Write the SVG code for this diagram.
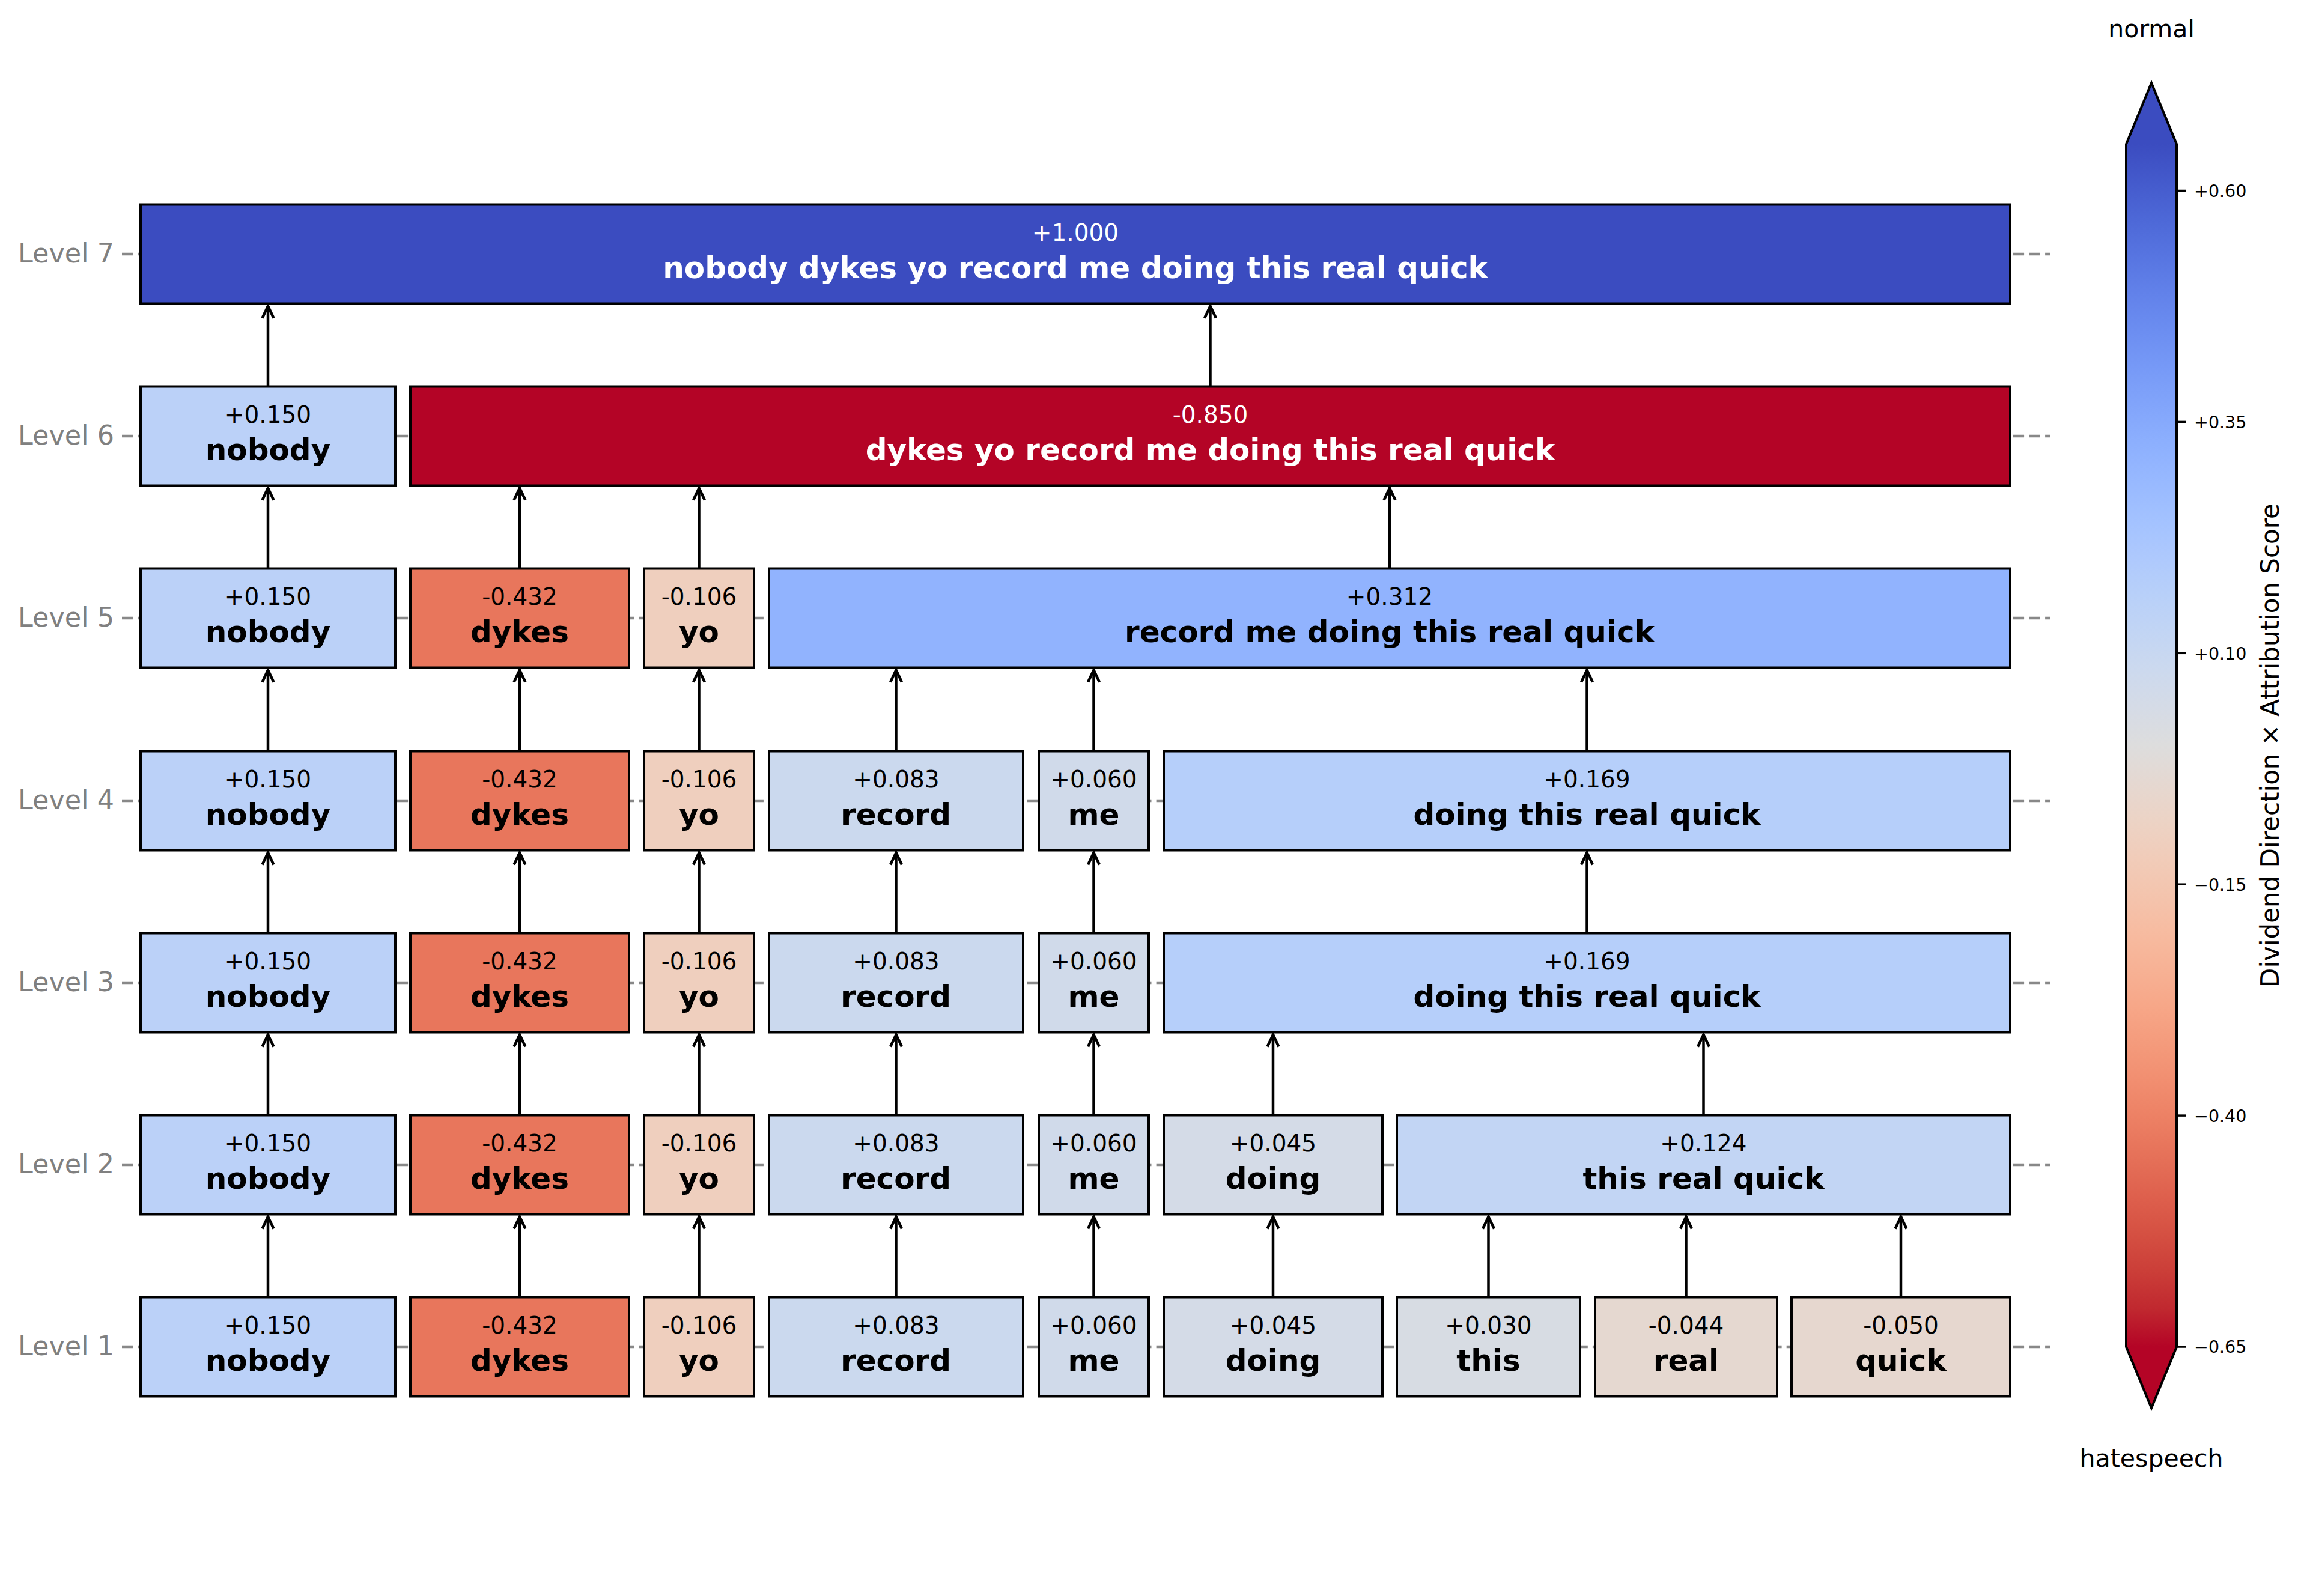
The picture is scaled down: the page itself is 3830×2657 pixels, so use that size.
<svg xmlns="http://www.w3.org/2000/svg" width="3830" height="2657" viewBox="0 0 3830 2657">
<style>
text{font-family:"DejaVu Sans","Liberation Sans",sans-serif}
.box{stroke:#000;stroke-width:4}
.val{font-size:39px;text-anchor:middle;fill:#000}
.lab{font-size:50px;font-weight:bold;text-anchor:middle;fill:#000}
.w{fill:#fff}
.lvl{font-size:44.5px;text-anchor:end;fill:#808080}
.grid{stroke:#888;stroke-width:4.5;stroke-dasharray:18.8 8.1;fill:none}
.arr{stroke:#000;stroke-width:4.5;fill:none;marker-end:url(#ah)}
.tick{stroke:#000;stroke-width:3.5}
.tl{font-size:28.5px;fill:#000}
.cb{font-size:41px;fill:#000}
.cbl{font-size:42px;fill:#000}
</style>
<defs>
<marker id="ah" markerUnits="userSpaceOnUse" markerWidth="60" markerHeight="60" refX="0" refY="0" orient="auto" overflow="visible">
<path d="M-20,-9.5 L0,0 L-20,9.5" fill="none" stroke="#000" stroke-width="4.5"/>
</marker>
<linearGradient id="cw" x1="0" y1="0" x2="0" y2="1">
<stop offset="0" stop-color="rgb(59,76,192)"/>
<stop offset="0.03125" stop-color="rgb(68,90,204)"/>
<stop offset="0.0625" stop-color="rgb(77,104,215)"/>
<stop offset="0.09375" stop-color="rgb(87,117,225)"/>
<stop offset="0.125" stop-color="rgb(98,130,234)"/>
<stop offset="0.15625" stop-color="rgb(108,142,241)"/>
<stop offset="0.1875" stop-color="rgb(119,154,247)"/>
<stop offset="0.21875" stop-color="rgb(130,165,251)"/>
<stop offset="0.25" stop-color="rgb(141,176,254)"/>
<stop offset="0.28125" stop-color="rgb(152,185,255)"/>
<stop offset="0.3125" stop-color="rgb(163,194,255)"/>
<stop offset="0.34375" stop-color="rgb(174,201,253)"/>
<stop offset="0.375" stop-color="rgb(184,208,249)"/>
<stop offset="0.40625" stop-color="rgb(194,213,244)"/>
<stop offset="0.4375" stop-color="rgb(204,217,238)"/>
<stop offset="0.46875" stop-color="rgb(213,219,230)"/>
<stop offset="0.5" stop-color="rgb(221,221,221)"/>
<stop offset="0.53125" stop-color="rgb(229,216,209)"/>
<stop offset="0.5625" stop-color="rgb(236,211,197)"/>
<stop offset="0.59375" stop-color="rgb(241,204,185)"/>
<stop offset="0.625" stop-color="rgb(244,196,173)"/>
<stop offset="0.65625" stop-color="rgb(247,187,160)"/>
<stop offset="0.6875" stop-color="rgb(247,177,148)"/>
<stop offset="0.71875" stop-color="rgb(247,166,135)"/>
<stop offset="0.75" stop-color="rgb(244,154,123)"/>
<stop offset="0.78125" stop-color="rgb(241,141,111)"/>
<stop offset="0.8125" stop-color="rgb(236,127,99)"/>
<stop offset="0.84375" stop-color="rgb(229,112,88)"/>
<stop offset="0.875" stop-color="rgb(222,96,77)"/>
<stop offset="0.90625" stop-color="rgb(213,80,66)"/>
<stop offset="0.9375" stop-color="rgb(203,62,56)"/>
<stop offset="0.96875" stop-color="rgb(192,40,47)"/>
<stop offset="1" stop-color="rgb(180,4,38)"/>
</linearGradient>
</defs>
<rect width="3830" height="2657" fill="#fff"/>

<g id="grid">
<line class="grid" x1="203" y1="423" x2="3412" y2="423"/>
<line class="grid" x1="203" y1="726" x2="3412" y2="726"/>
<line class="grid" x1="203" y1="1029" x2="3412" y2="1029"/>
<line class="grid" x1="203" y1="1333" x2="3412" y2="1333"/>
<line class="grid" x1="203" y1="1636" x2="3412" y2="1636"/>
<line class="grid" x1="203" y1="1939" x2="3412" y2="1939"/>
<line class="grid" x1="203" y1="2242" x2="3412" y2="2242"/>
</g>

<g id="level-labels">
<text class="lvl" x="190" y="437">Level 7</text>
<text class="lvl" x="190" y="740">Level 6</text>
<text class="lvl" x="190" y="1043">Level 5</text>
<text class="lvl" x="190" y="1347">Level 4</text>
<text class="lvl" x="190" y="1650">Level 3</text>
<text class="lvl" x="190" y="1953">Level 2</text>
<text class="lvl" x="190" y="2256">Level 1</text>
</g>

<g id="connectors">
<line class="arr" x1="446" y1="2159.5" x2="446" y2="2025.5"/>
<line class="arr" x1="865" y1="2159.5" x2="865" y2="2025.5"/>
<line class="arr" x1="1163.5" y1="2159.5" x2="1163.5" y2="2025.5"/>
<line class="arr" x1="1491.5" y1="2159.5" x2="1491.5" y2="2025.5"/>
<line class="arr" x1="1820.5" y1="2159.5" x2="1820.5" y2="2025.5"/>
<line class="arr" x1="2119" y1="2159.5" x2="2119" y2="2025.5"/>
<line class="arr" x1="2477.5" y1="2159.5" x2="2477.5" y2="2025.5"/>
<line class="arr" x1="2806.5" y1="2159.5" x2="2806.5" y2="2025.5"/>
<line class="arr" x1="3164" y1="2159.5" x2="3164" y2="2025.5"/>

<line class="arr" x1="446" y1="1856.5" x2="446" y2="1722.5"/>
<line class="arr" x1="865" y1="1856.5" x2="865" y2="1722.5"/>
<line class="arr" x1="1163.5" y1="1856.5" x2="1163.5" y2="1722.5"/>
<line class="arr" x1="1491.5" y1="1856.5" x2="1491.5" y2="1722.5"/>
<line class="arr" x1="1820.5" y1="1856.5" x2="1820.5" y2="1722.5"/>
<line class="arr" x1="2119" y1="1856.5" x2="2119" y2="1722.5"/>
<line class="arr" x1="2835.5" y1="1856.5" x2="2835.5" y2="1722.5"/>

<line class="arr" x1="446" y1="1553.5" x2="446" y2="1419.5"/>
<line class="arr" x1="865" y1="1553.5" x2="865" y2="1419.5"/>
<line class="arr" x1="1163.5" y1="1553.5" x2="1163.5" y2="1419.5"/>
<line class="arr" x1="1491.5" y1="1553.5" x2="1491.5" y2="1419.5"/>
<line class="arr" x1="1820.5" y1="1553.5" x2="1820.5" y2="1419.5"/>
<line class="arr" x1="2641.5" y1="1553.5" x2="2641.5" y2="1419.5"/>

<line class="arr" x1="446" y1="1250.5" x2="446" y2="1115.5"/>
<line class="arr" x1="865" y1="1250.5" x2="865" y2="1115.5"/>
<line class="arr" x1="1163.5" y1="1250.5" x2="1163.5" y2="1115.5"/>
<line class="arr" x1="1491.5" y1="1250.5" x2="1491.5" y2="1115.5"/>
<line class="arr" x1="1820.5" y1="1250.5" x2="1820.5" y2="1115.5"/>
<line class="arr" x1="2641.5" y1="1250.5" x2="2641.5" y2="1115.5"/>

<line class="arr" x1="446" y1="946.5" x2="446" y2="812.5"/>
<line class="arr" x1="865" y1="946.5" x2="865" y2="812.5"/>
<line class="arr" x1="1163.5" y1="946.5" x2="1163.5" y2="812.5"/>
<line class="arr" x1="2313" y1="946.5" x2="2313" y2="812.5"/>

<line class="arr" x1="446" y1="643.5" x2="446" y2="509.5"/>
<line class="arr" x1="2014.5" y1="643.5" x2="2014.5" y2="509.5"/>
</g>

<!-- Level 7 -->
<g id="n7-all">
<rect class="box" x="234" y="340.5" width="3112" height="165" fill="#3B4CC0"/>
<text class="val w" x="1790" y="401">+1.000</text>
<text class="lab w" x="1790" y="463">nobody dykes yo record me doing this real quick</text>
</g>

<!-- Level 6 -->
<g id="n6-nobody">
<rect class="box" x="234" y="643.5" width="424" height="165" fill="#BBD1F8"/>
<text class="val" x="446" y="704">+0.150</text>
<text class="lab" x="446" y="766">nobody</text>
</g>
<g id="n6-rest">
<rect class="box" x="683" y="643.5" width="2663" height="165" fill="#B40426"/>
<text class="val w" x="2014.5" y="704">-0.850</text>
<text class="lab w" x="2014.5" y="766">dykes yo record me doing this real quick</text>
</g>

<!-- Level 5 -->
<g id="n5-nobody">
<rect class="box" x="234" y="946.5" width="424" height="165" fill="#BBD1F8"/>
<text class="val" x="446" y="1007">+0.150</text>
<text class="lab" x="446" y="1069">nobody</text>
</g>
<g id="n5-dykes">
<rect class="box" x="683" y="946.5" width="364" height="165" fill="#E8765C"/>
<text class="val" x="865" y="1007">-0.432</text>
<text class="lab" x="865" y="1069">dykes</text>
</g>
<g id="n5-yo">
<rect class="box" x="1072" y="946.5" width="183" height="165" fill="#EFCFBE"/>
<text class="val" x="1163.5" y="1007">-0.106</text>
<text class="lab" x="1163.5" y="1069">yo</text>
</g>
<g id="n5-rest">
<rect class="box" x="1280" y="946.5" width="2066" height="165" fill="#91B3FE"/>
<text class="val" x="2313" y="1007">+0.312</text>
<text class="lab" x="2313" y="1069">record me doing this real quick</text>
</g>

<!-- Level 4 -->
<g id="n4-nobody">
<rect class="box" x="234" y="1250.5" width="424" height="165" fill="#BBD1F8"/>
<text class="val" x="446" y="1311">+0.150</text>
<text class="lab" x="446" y="1373">nobody</text>
</g>
<g id="n4-dykes">
<rect class="box" x="683" y="1250.5" width="364" height="165" fill="#E8765C"/>
<text class="val" x="865" y="1311">-0.432</text>
<text class="lab" x="865" y="1373">dykes</text>
</g>
<g id="n4-yo">
<rect class="box" x="1072" y="1250.5" width="183" height="165" fill="#EFCFBE"/>
<text class="val" x="1163.5" y="1311">-0.106</text>
<text class="lab" x="1163.5" y="1373">yo</text>
</g>
<g id="n4-record">
<rect class="box" x="1280" y="1250.5" width="423" height="165" fill="#CBD9EE"/>
<text class="val" x="1491.5" y="1311">+0.083</text>
<text class="lab" x="1491.5" y="1373">record</text>
</g>
<g id="n4-me">
<rect class="box" x="1729" y="1250.5" width="183" height="165" fill="#D0DAEA"/>
<text class="val" x="1820.5" y="1311">+0.060</text>
<text class="lab" x="1820.5" y="1373">me</text>
</g>
<g id="n4-rest">
<rect class="box" x="1937" y="1250.5" width="1409" height="165" fill="#B6CFFA"/>
<text class="val" x="2641.5" y="1311">+0.169</text>
<text class="lab" x="2641.5" y="1373">doing this real quick</text>
</g>

<!-- Level 3 -->
<g id="n3-nobody">
<rect class="box" x="234" y="1553.5" width="424" height="165" fill="#BBD1F8"/>
<text class="val" x="446" y="1614">+0.150</text>
<text class="lab" x="446" y="1676">nobody</text>
</g>
<g id="n3-dykes">
<rect class="box" x="683" y="1553.5" width="364" height="165" fill="#E8765C"/>
<text class="val" x="865" y="1614">-0.432</text>
<text class="lab" x="865" y="1676">dykes</text>
</g>
<g id="n3-yo">
<rect class="box" x="1072" y="1553.5" width="183" height="165" fill="#EFCFBE"/>
<text class="val" x="1163.5" y="1614">-0.106</text>
<text class="lab" x="1163.5" y="1676">yo</text>
</g>
<g id="n3-record">
<rect class="box" x="1280" y="1553.5" width="423" height="165" fill="#CBD9EE"/>
<text class="val" x="1491.5" y="1614">+0.083</text>
<text class="lab" x="1491.5" y="1676">record</text>
</g>
<g id="n3-me">
<rect class="box" x="1729" y="1553.5" width="183" height="165" fill="#D0DAEA"/>
<text class="val" x="1820.5" y="1614">+0.060</text>
<text class="lab" x="1820.5" y="1676">me</text>
</g>
<g id="n3-rest">
<rect class="box" x="1937" y="1553.5" width="1409" height="165" fill="#B6CFFA"/>
<text class="val" x="2641.5" y="1614">+0.169</text>
<text class="lab" x="2641.5" y="1676">doing this real quick</text>
</g>

<!-- Level 2 -->
<g id="n2-nobody">
<rect class="box" x="234" y="1856.5" width="424" height="165" fill="#BBD1F8"/>
<text class="val" x="446" y="1917">+0.150</text>
<text class="lab" x="446" y="1979">nobody</text>
</g>
<g id="n2-dykes">
<rect class="box" x="683" y="1856.5" width="364" height="165" fill="#E8765C"/>
<text class="val" x="865" y="1917">-0.432</text>
<text class="lab" x="865" y="1979">dykes</text>
</g>
<g id="n2-yo">
<rect class="box" x="1072" y="1856.5" width="183" height="165" fill="#EFCFBE"/>
<text class="val" x="1163.5" y="1917">-0.106</text>
<text class="lab" x="1163.5" y="1979">yo</text>
</g>
<g id="n2-record">
<rect class="box" x="1280" y="1856.5" width="423" height="165" fill="#CBD9EE"/>
<text class="val" x="1491.5" y="1917">+0.083</text>
<text class="lab" x="1491.5" y="1979">record</text>
</g>
<g id="n2-me">
<rect class="box" x="1729" y="1856.5" width="183" height="165" fill="#D0DAEA"/>
<text class="val" x="1820.5" y="1917">+0.060</text>
<text class="lab" x="1820.5" y="1979">me</text>
</g>
<g id="n2-doing">
<rect class="box" x="1937" y="1856.5" width="364" height="165" fill="#D4DBE7"/>
<text class="val" x="2119" y="1917">+0.045</text>
<text class="lab" x="2119" y="1979">doing</text>
</g>
<g id="n2-rest">
<rect class="box" x="2325" y="1856.5" width="1021" height="165" fill="#C2D5F4"/>
<text class="val" x="2835.5" y="1917">+0.124</text>
<text class="lab" x="2835.5" y="1979">this real quick</text>
</g>

<!-- Level 1 -->
<g id="n1-nobody">
<rect class="box" x="234" y="2159.5" width="424" height="165" fill="#BBD1F8"/>
<text class="val" x="446" y="2220">+0.150</text>
<text class="lab" x="446" y="2282">nobody</text>
</g>
<g id="n1-dykes">
<rect class="box" x="683" y="2159.5" width="364" height="165" fill="#E8765C"/>
<text class="val" x="865" y="2220">-0.432</text>
<text class="lab" x="865" y="2282">dykes</text>
</g>
<g id="n1-yo">
<rect class="box" x="1072" y="2159.5" width="183" height="165" fill="#EFCFBE"/>
<text class="val" x="1163.5" y="2220">-0.106</text>
<text class="lab" x="1163.5" y="2282">yo</text>
</g>
<g id="n1-record">
<rect class="box" x="1280" y="2159.5" width="423" height="165" fill="#CBD9EE"/>
<text class="val" x="1491.5" y="2220">+0.083</text>
<text class="lab" x="1491.5" y="2282">record</text>
</g>
<g id="n1-me">
<rect class="box" x="1729" y="2159.5" width="183" height="165" fill="#D0DAEA"/>
<text class="val" x="1820.5" y="2220">+0.060</text>
<text class="lab" x="1820.5" y="2282">me</text>
</g>
<g id="n1-doing">
<rect class="box" x="1937" y="2159.5" width="364" height="165" fill="#D4DBE7"/>
<text class="val" x="2119" y="2220">+0.045</text>
<text class="lab" x="2119" y="2282">doing</text>
</g>
<g id="n1-this">
<rect class="box" x="2325" y="2159.5" width="305" height="165" fill="#D7DCE3"/>
<text class="val" x="2477.5" y="2220">+0.030</text>
<text class="lab" x="2477.5" y="2282">this</text>
</g>
<g id="n1-real">
<rect class="box" x="2655" y="2159.5" width="303" height="165" fill="#E5D8D0"/>
<text class="val" x="2806.5" y="2220">-0.044</text>
<text class="lab" x="2806.5" y="2282">real</text>
</g>
<g id="n1-quick">
<rect class="box" x="2982" y="2159.5" width="364" height="165" fill="#E6D7CF"/>
<text class="val" x="3164" y="2220">-0.050</text>
<text class="lab" x="3164" y="2282">quick</text>
</g>

<g id="colorbar">
<rect x="3539" y="240" width="84" height="2002" fill="url(#cw)"/>
<polygon points="3539,240 3581,138 3623,240" fill="#3B4CC0"/>
<polygon points="3539,2242 3581,2344 3623,2242" fill="#B40426"/>
<polygon points="3539,240 3581,138 3623,240 3623,2242 3581,2344 3539,2242" fill="none" stroke="#000" stroke-width="4"/>
<line class="tick" x1="3623" y1="317.5" x2="3638" y2="317.5"/>
<line class="tick" x1="3623" y1="702.4" x2="3638" y2="702.4"/>
<line class="tick" x1="3623" y1="1087.3" x2="3638" y2="1087.3"/>
<line class="tick" x1="3623" y1="1472.2" x2="3638" y2="1472.2"/>
<line class="tick" x1="3623" y1="1857.1" x2="3638" y2="1857.1"/>
<line class="tick" x1="3623" y1="2242" x2="3638" y2="2242"/>
<text class="tl" x="3652" y="328">+0.60</text>
<text class="tl" x="3652" y="713">+0.35</text>
<text class="tl" x="3652" y="1098">+0.10</text>
<text class="tl" x="3652" y="1483">−0.15</text>
<text class="tl" x="3652" y="1868">−0.40</text>
<text class="tl" x="3652" y="2252">−0.65</text>
<text class="cbl" x="0" y="0" text-anchor="middle" transform="translate(3793,1241) rotate(-90)">Dividend Direction × Attribution Score</text>
<text class="cb" x="3581" y="62" text-anchor="middle">normal</text>
<text class="cb" x="3581" y="2442" text-anchor="middle">hatespeech</text>
</g>
</svg>
